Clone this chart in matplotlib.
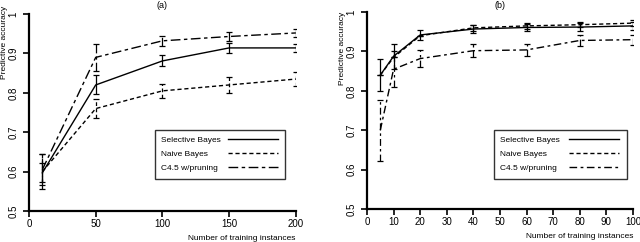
import matplotlib
matplotlib.use("Agg")
import matplotlib.pyplot as plt

plt.rcParams['font.family'] = ['Liberation Sans', 'DejaVu Sans']

# panel (a)
xa = [10, 50, 100, 150, 200]
sel_a = [0.597, 0.820, 0.881, 0.914, 0.914]
sel_a_err = [0.024, 0.024, 0.014, 0.013, 0.010]
nb_a = [0.600, 0.760, 0.805, 0.820, 0.835]
nb_a_err = [0.045, 0.025, 0.017, 0.020, 0.018]
c45_a = [0.605, 0.890, 0.932, 0.943, 0.952]
c45_a_err = [0.040, 0.034, 0.013, 0.012, 0.010]

# panel (b)
xb = [5, 10, 20, 40, 60, 80, 100]
sel_b = [0.840, 0.888, 0.942, 0.957, 0.961, 0.962, 0.965]
sel_b_err = [0.040, 0.032, 0.013, 0.010, 0.008, 0.010, 0.010]
nb_b = [0.840, 0.885, 0.940, 0.960, 0.965, 0.968, 0.972]
nb_b_err = [0.000, 0.000, 0.000, 0.008, 0.007, 0.007, 0.007]
c45_b = [0.700, 0.855, 0.882, 0.902, 0.904, 0.928, 0.930]
c45_b_err = [0.077, 0.045, 0.022, 0.016, 0.015, 0.013, 0.013]

labels = ['Selective Bayes', 'Naive Bayes', 'C4.5 w/pruning']


def draw_panel(ax, x, series, styles, title, xticks, ylab_y, title_pad, leg_xy):
    handles = []
    for (y, err), ls in zip(series, styles):
        eb = ax.errorbar(x, y, yerr=err, color='black', linestyle=ls,
                         linewidth=1.0, elinewidth=0.9, capsize=2.2,
                         capthick=0.9)
        eb[2][0].set_linestyle(ls)
        handles.append(eb[0])
    ax.set_ylim(0.5, 1.0)
    ax.set_xlim(xticks[0], xticks[-1])
    ax.set_xticks(xticks)
    ax.set_yticks([0.5, 0.6, 0.7, 0.8, 0.9, 1.0])
    ax.set_yticklabels(['0.5', '0.6', '0.7', '0.8', '0.9', '1'],
                       rotation=90, va='center')
    for s in ['top', 'right']:
        ax.spines[s].set_visible(False)
    for s in ['left', 'bottom']:
        ax.spines[s].set_linewidth(1.6)
    ax.tick_params(direction='out', length=4, width=1.2, labelsize=7, pad=2)
    ax.tick_params(axis='y', pad=3.5)
    ax.set_title(title, fontsize=6.5, pad=title_pad)
    ax.set_xlabel('Number of training instances', fontsize=6, loc='right',
                  labelpad=4)
    ax.set_ylabel('Predictive accuracy', fontsize=6, loc='top')
    ax.yaxis.set_label_coords(-0.077, ylab_y)
    leg = ax.legend(handles, labels, loc='upper left',
                    bbox_to_anchor=(leg_xy[0], leg_xy[1], leg_xy[2], 0.0),
                    mode='expand', borderaxespad=0,
                    markerfirst=False, fontsize=6, handlelength=6.0,
                    frameon=True, fancybox=False, borderpad=0.75,
                    labelspacing=0.75, handletextpad=1.0)
    leg.get_frame().set_edgecolor('black')
    leg.get_frame().set_linewidth(1.0)
    return leg


def align_legend(leg, renderer, line_start_px):
    # handles sit at the right, labels start at the left
    items = []
    for col in leg._legend_handle_box.get_children():
        items.extend(col.get_children())
    widths = [it.get_children()[0].get_bbox(renderer).width for it in items]
    pad_px = leg.borderpad * renderer.points_to_pixels(leg._fontsize)
    for it, w in zip(items, widths):
        sep_px = line_start_px - pad_px - w
        it.sep = sep_px / renderer.points_to_pixels(1.0)


fig = plt.figure(figsize=(6.4, 2.42), dpi=100)
ax1 = fig.add_axes([0.0453, 0.128, 0.417, 0.814])
ax2 = fig.add_axes([0.5734, 0.136, 0.4156, 0.814])

leg1 = draw_panel(ax1, xa,
                  [(sel_a, sel_a_err), (nb_a, nb_a_err), (c45_a, c45_a_err)],
                  ['-', (0, (3, 2)), (0, (7, 2.5, 2.5, 2.5))], '(a)',
                  [0, 50, 100, 150, 200], 1.04, 4.5, (0.472, 0.411, 0.487))
leg2 = draw_panel(ax2, xb,
                  [(sel_b, sel_b_err), (nb_b, nb_b_err), (c45_b, c45_b_err)],
                  ['-', (0, (3, 2)), (0, (5.5, 2.5, 2, 2.5))], '(b)',
                  list(range(0, 101, 10)), 1.0, 3.0, (0.477, 0.401, 0.5))

fig.canvas.draw()
renderer = fig.canvas.get_renderer()
align_legend(leg1, renderer, 73)
align_legend(leg2, renderer, 75)

fig.savefig('out.png', dpi=100)
